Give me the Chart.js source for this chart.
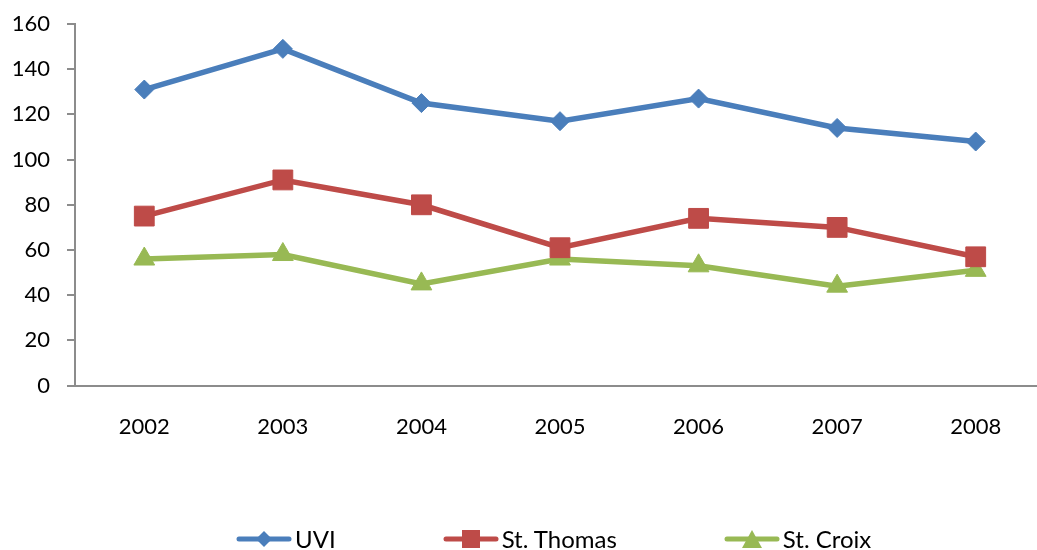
<!DOCTYPE html>
<html>
<head>
<meta charset="utf-8">
<script src="https://cdn.jsdelivr.net/npm/chart.js@4/dist/chart.umd.min.js"></script>
<style>
    html, body { margin: 0; padding: 0; background: #fff; overflow: hidden; }
    #wrap { position: relative; width: 1060px; height: 550px; }
    #legend {
        position: absolute; left: 236px; top: 527px; height: 24px;
        display: flex; align-items: center;
        font-family: Lato, "Open Sans", sans-serif; font-size: 24px; color: #000;
    }
    #legend .item { display: flex; align-items: center; margin-right: 107px; }
    #legend .item span { margin-left: 3px; line-height: 24px; }
</style>
</head>
<body>
<div id="wrap">
    <canvas id="trend-chart"></canvas>
    <div id="legend"></div>
</div>
<script>
// Data
const years = ['2002', '2003', '2004', '2005', '2006', '2007', '2008'];
const uviValues = [131, 149, 125, 117, 127, 114, 108];
const stThomasValues = [75, 91, 80, 61, 74, 70, 57];
const stCroixValues = [56, 58, 45, 56, 53, 44, 51];
const yTicks = [0, 20, 40, 60, 80, 100, 120, 140, 160];

const BLUE = '#4A7EBB';
const RED = '#BE4B48';
const GREEN = '#98B954';
const FONT = 'Lato, "Open Sans", sans-serif';

// Legend icon: short line with the series marker in the middle
function legendIcon(color, style) {
    const c = document.createElement('canvas');
    c.width = 56;
    c.height = 24;
    const ctx = c.getContext('2d');
    ctx.strokeStyle = color;
    ctx.fillStyle = color;
    ctx.lineWidth = 5;
    ctx.lineCap = 'round';
    ctx.beginPath();
    ctx.moveTo(3, 12);
    ctx.lineTo(53, 12);
    ctx.stroke();
    ctx.beginPath();
    if (style === 'rectRot') {
        ctx.moveTo(28, 4); ctx.lineTo(36, 12); ctx.lineTo(28, 20); ctx.lineTo(20, 12);
    } else if (style === 'rect') {
        ctx.rect(19, 3, 18, 18);
    } else {
        ctx.moveTo(28, 3); ctx.lineTo(38, 21); ctx.lineTo(18, 21);
    }
    ctx.closePath();
    ctx.fill();
    return c;
}

const ctx = document.getElementById('trend-chart');
const chart = new Chart(ctx, {
    type: 'line',
    data: {
        labels: years,
        datasets: [
            {
                label: 'UVI',
                data: uviValues,
                borderColor: BLUE,
                backgroundColor: BLUE,
                borderWidth: 5.5,
                pointStyle: 'rectRot',
                pointRadius: 9.5,
                pointBorderWidth: 1,
                tension: 0
            },
            {
                label: 'St. Thomas',
                data: stThomasValues,
                borderColor: RED,
                backgroundColor: RED,
                borderWidth: 5.5,
                pointStyle: 'rect',
                pointRadius: 14,
                pointBorderWidth: 1,
                tension: 0
            },
            {
                label: 'St. Croix',
                data: stCroixValues,
                borderColor: GREEN,
                backgroundColor: GREEN,
                borderWidth: 5.5,
                pointStyle: 'triangle',
                pointRadius: 12,
                pointBorderWidth: 1,
                tension: 0
            }
        ]
    },
    options: {
        responsive: true,
        maintainAspectRatio: false,
        animation: false,
        layout: {
            padding: { top: 24, right: 9, bottom: 82, left: 0 }
        },
        plugins: {
            tooltip: { enabled: false },
            legend: { display: false }
        },
        scales: {
            x: {
                offset: true,
                grid: { display: false, drawTicks: false },
                border: { display: true, color: '#8c8c8c', width: 2 },
                ticks: {
                    color: '#000',
                    padding: 28,
                    font: { family: FONT, size: 22 },
                    maxRotation: 0
                }
            },
            y: {
                min: 0,
                max: 160,
                afterBuildTicks: function(scale) {
                    scale.ticks = yTicks.map(v => ({ value: v }));
                },
                grid: {
                    display: true,
                    drawOnChartArea: false,
                    drawTicks: true,
                    tickLength: 8,
                    color: '#8c8c8c',
                    lineWidth: 2
                },
                border: { display: true, color: '#8c8c8c', width: 2 },
                ticks: {
                    color: '#000',
                    padding: 17,
                    // small lineHeight keeps the top label from adding extra padding
                    font: { family: FONT, size: 22, lineHeight: 0.4 }
                },
                afterFit: function(scale) { scale.width = 75; }
            }
        }
    }
});

// HTML legend built from the datasets
const legendEl = document.getElementById('legend');
chart.data.datasets.forEach(ds => {
    const item = document.createElement('div');
    item.className = 'item';
    item.appendChild(legendIcon(ds.borderColor, ds.pointStyle));
    const text = document.createElement('span');
    text.textContent = ds.label;
    item.appendChild(text);
    legendEl.appendChild(item);
});
</script>
</body>
</html>
